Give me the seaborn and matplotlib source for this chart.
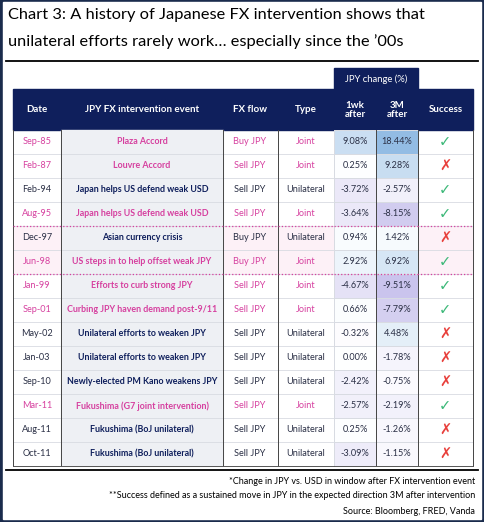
import numpy as np
import pandas as pd
import seaborn as sns
import matplotlib.pyplot as plt
from matplotlib.colors import LinearSegmentedColormap
from matplotlib.patches import Rectangle

dates = ['Sep-85', 'Feb-87', 'Feb-94', 'Aug-95', 'Dec-97', 'Jun-98', 'Jan-99', 'Sep-01',
         'May-02', 'Jan-03', 'Sep-10', 'Mar-11', 'Aug-11', 'Oct-11']
events = ['Plaza Accord', 'Louvre Accord', 'Japan helps US defend weak USD',
          'Japan helps US defend weak USD', 'Asian currency crisis',
          'US steps in to help offset weak JPY', 'Efforts to curb strong JPY',
          'Curbing JPY haven demand post-9/11', 'Unilateral efforts to weaken JPY',
          'Unilateral efforts to weaken JPY', 'Newly-elected PM Kano weakens JPY',
          'Fukushima (G7 joint intervention)', 'Fukushima (BoJ unilateral)',
          'Fukushima (BoJ unilateral)']
flows = ['Buy JPY', 'Sell JPY', 'Sell JPY', 'Sell JPY', 'Buy JPY', 'Buy JPY', 'Sell JPY',
         'Sell JPY', 'Sell JPY', 'Sell JPY', 'Sell JPY', 'Sell JPY', 'Sell JPY', 'Sell JPY']
types = ['Joint', 'Joint', 'Unilateral', 'Joint', 'Unilateral', 'Joint', 'Joint', 'Joint',
         'Unilateral', 'Unilateral', 'Unilateral', 'Joint', 'Unilateral', 'Unilateral']
chg_1wk = [9.08, 0.25, -3.72, -3.64, 0.94, 2.92, -4.67, 0.66, -0.32, 0.00, -2.42, -2.57, 0.25, -3.09]
chg_3m = [18.44, 9.28, -2.57, -8.15, 1.42, 6.92, -9.51, -7.79, 4.48, -1.78, -0.75, -2.19, -1.26, -1.15]
success = [True, False, True, True, False, True, True, True, False, False, False, True, False, False]

NAVY = '#0f1f5c'
PINK = '#d6409f'
W, H = 484, 522

plt.rcParams['font.family'] = ['Lato', 'DejaVu Sans']
fig = plt.figure(figsize=(W / 100, H / 100), dpi=100)
fig.patch.set_facecolor('#1a2b4c')
ax = fig.add_axes([0, 0, 1, 1])
ax.set_xlim(0, W)
ax.set_ylim(H, 0)
ax.axis('off')
ax.add_patch(Rectangle((3, 2), W - 6, H - 5, color='white', zorder=0))

ax.text(8, 15, 'Chart 3: A history of Japanese FX intervention shows that', fontsize=11.8,
        va='center', color='black')
ax.text(8, 42, 'unilateral efforts rarely work\u2026 especially since the \u201900s', fontsize=11.8,
        va='center', color='black')
ax.plot([6, 478], [61, 61], color='black', lw=1.3)

cols = [13, 61, 223, 278, 334, 376, 418, 473]
top, hdr_h, row_h = 130, 41, 24
n = len(dates)
bottom = top + n * row_h

# header
ax.add_patch(Rectangle((334, 68), 84, 22, color=NAVY))
ax.text(376, 79, 'JPY change (%)', color='white', fontsize=6.8, ha='center', va='center')
ax.add_patch(Rectangle((13, 89), 460, hdr_h, color=NAVY))
headers = ['Date', 'JPY FX intervention event', 'FX flow', 'Type', '1wk\nafter', '3M\nafter', 'Success']
for i, h in enumerate(headers):
    ax.text((cols[i] + cols[i + 1]) / 2, 110, h, color='white', fontsize=7, fontweight='bold',
            ha='center', va='center', linespacing=1.1)

# body backgrounds
ax.add_patch(Rectangle((61, top), 162, n * row_h, color='#eef0f4', zorder=1))
ax.add_patch(Rectangle((13, top + 4 * row_h), 460, 2 * row_h, color='#fdf1f7', zorder=0.5))
for i in range(n):
    y = top + (i + 0.5) * row_h
    pink = types[i] == 'Joint'
    c = PINK if pink else '#2a2f45'
    ec = PINK if pink else NAVY
    ax.text(37, y, dates[i], color=c, fontsize=6.6, ha='center', va='center', zorder=3)
    ax.text(142, y, events[i], color=ec, fontsize=6.4, fontweight='bold', ha='center', va='center', zorder=3)
    ax.text(250, y, flows[i], color=c, fontsize=6.6, ha='center', va='center', zorder=3)
    ax.text(306, y, types[i], color=c, fontsize=6.6, ha='center', va='center', zorder=3)
    ax.text(445, y, '\u2713' if success[i] else '\u2717', color='#3cb878' if success[i] else '#e8403c',
            fontsize=10.5, ha='center', va='center', zorder=3, family='DejaVu Sans')
    if i > 0:
        ax.plot([13, 473], [top + i * row_h] * 2, color='#d8dbe2', lw=0.6, zorder=2)
for x in cols:
    ax.plot([x, x], [top, bottom], color='#444444', lw=0.7, zorder=2)
ax.plot([13, 473], [bottom, bottom], color='#555555', lw=0.7, zorder=2)
# dotted highlight box
for y in [top + 4 * row_h, top + 6 * row_h]:
    ax.plot([13, 473], [y, y], color=PINK, lw=0.9, ls=':', zorder=4)

# heatmap of JPY changes
df = pd.DataFrame({'1wk': chg_1wk, '3M': chg_3m}, index=dates)
labels = df.map(lambda v: f'{v:.2f}%')
cmap = LinearSegmentedColormap.from_list('pb', ['#8678d6', '#ffffff', '#7fb0df'])
hax = fig.add_axes([334 / W, 1 - bottom / H, 84 / W, n * row_h / H])
sns.heatmap(df, ax=hax, cmap=cmap, center=0, vmin=-12, vmax=22, annot=labels, fmt='',
            cbar=False, linewidths=0.6, linecolor='#d8dbe2',
            annot_kws={'fontsize': 6.6, 'color': '#2a2f45'})
hax.set_xticks([])
hax.set_yticks([])
hax.set_xlabel('')
hax.set_ylabel('')
hax.axvline(1, color='#444444', lw=0.7)
hax.axhline(4, color=PINK, lw=0.9, ls=':')
hax.axhline(6, color=PINK, lw=0.9, ls=':')

ax.plot([6, 478], [470, 470], color='black', lw=1.3)
foot = ['*Change in JPY vs. USD in window after FX intervention event',
        '**Success defined as a sustained move in JPY in the expected direction 3M after intervention',
        'Source: Bloomberg, FRED, Vanda']
for k, t in enumerate(foot):
    ax.text(475, 481 + k * 15, t, fontsize=6.5, ha='right', va='center', color='black')

fig.savefig('out.png', dpi=100, facecolor=fig.get_facecolor())
